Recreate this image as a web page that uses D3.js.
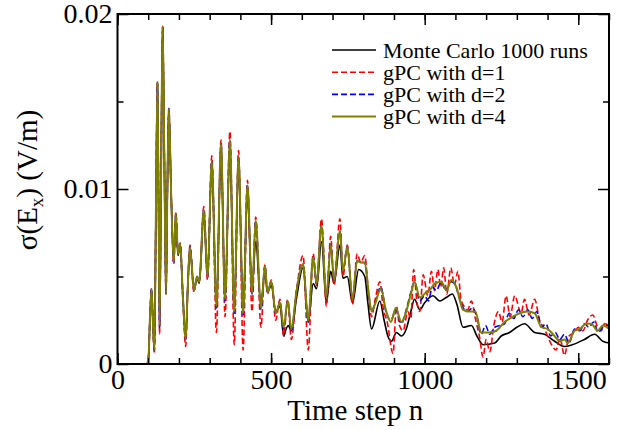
<!DOCTYPE html>
<html>
<head>
<meta charset="utf-8">
<script src="https://cdn.jsdelivr.net/npm/d3@7"></script>
<style>
  body { margin: 0; background: #fff; }
  svg text { font-family: "Liberation Serif", "Times New Roman", serif; fill: #000; }
</style>
</head>
<body>
<svg id="chart"></svg>
<script>
// legend labels and line styles, same order as the series below
const seriesNames = ['Monte Carlo 1000 runs', 'gPC with d=1', 'gPC with d=2', 'gPC with d=4'];
const xTickValues = [0, 500, 1000, 1500];
const yTickValues = [0, 0.01, 0.02];

// [time step, sigma(Ex)]
const mcRuns = [[0,0],[96,0],[101,0.0004],[106,0.0028],[111,0.0043],[115,0.0025],[120,0.0008],[125,0.0085],[130,0.0160],[134,0.0085],[137,0.0022],[142,0.011],[147,0.0192],[152,0.0125],[158,0.0040],[162,0.0095],[167,0.0145],[175,0.0095],[183,0.0060],[190,0.0084],[197,0.0062],[204,0.0068],[213,0.0038],[222,0.0015],[229,0.0045],[236,0.0066],[249,0.0043],[259,0.0049],[266,0.0046],[281,0.0085],[293,0.0050],[307,0.0114],[322,0.0035],[337,0.0122],[350,0.0038],[366,0.0122],[380,0.0033],[394,0.0112],[409,0.0032],[423,0.0097],[438,0.0043],[450,0.0070],[467,0.0034],[480,0.0053],[488,0.0041],[501,0.0045],[515,0.0030],[529,0.0033],[541,0.0016],[549,0.0020],[556,0.0022],[566,0.0019],[583,0.0038],[604,0.0055],[621,0.0024],[637,0.0046],[648,0.0043],[664,0.0070],[680,0.0035],[694,0.0053],[705,0.0046],[724,0.0068],[734,0.0049],[748,0.0050],[765,0.0035],[785,0.0054],[805,0.0050],[815,0.0035],[827,0.0020],[854,0.0036],[868,0.0025],[880,0.0016],[892,0.0013],[908,0.0018],[924,0.0016],[940,0.0020],[955,0.0030],[967,0.0037],[984,0.0031],[1000,0.0035],[1027,0.0039],[1049,0.0036],[1070,0.0038],[1090,0.0040],[1105,0.0034],[1125,0.0021],[1152,0.0022],[1170,0.0016],[1190,0.0011],[1228,0.0012],[1249,0.0016],[1276,0.0018],[1300,0.0021],[1325,0.0023],[1358,0.0018],[1390,0.0017],[1423,0.0013],[1455,0.0010],[1480,0.0011],[1520,0.0014],[1553,0.0017],[1580,0.0013],[1600,0.0012]];

const gpcD1 = [[0,0],[96,0],[101,0.0004],[106,0.0028],[111,0.0043],[115,0.0025],[120,0.0006],[125,0.0085],[130,0.0161],[134,0.0085],[137,0.0017],[142,0.011],[147,0.0193],[152,0.0125],[158,0.0040],[162,0.0095],[167,0.0146],[175,0.0095],[183,0.0057],[190,0.0087],[197,0.0063],[204,0.0069],[213,0.0036],[222,0.0010],[229,0.0045],[236,0.0068],[249,0.0041],[259,0.0050],[266,0.0047],[281,0.0090],[293,0.0048],[307,0.0119],[322,0.0018],[337,0.0128],[350,0.0027],[366,0.0133],[380,0.0011],[394,0.0122],[409,0.0008],[423,0.0105],[438,0.0030],[450,0.0084],[467,0.0021],[480,0.0057],[488,0.0040],[501,0.0048],[515,0.0025],[529,0.0037],[541,0.0016],[554,0.0037],[566,0.0014],[583,0.0042],[604,0.0062],[621,0.0008],[637,0.0063],[648,0.0045],[664,0.0083],[680,0.0033],[694,0.0073],[705,0.0045],[724,0.0083],[734,0.0050],[748,0.0068],[765,0.0034],[780,0.0063],[792,0.0058],[805,0.0062],[817,0.0040],[827,0.0027],[840,0.0038],[854,0.0047],[865,0.0032],[878,0.0024],[897,0.0006],[908,0.0033],[918,0.0022],[930,0.0019],[945,0.0030],[955,0.0026],[964,0.0054],[975,0.0035],[984,0.0030],[995,0.0051],[1010,0.0039],[1022,0.0053],[1032,0.0042],[1043,0.0054],[1052,0.0044],[1062,0.0055],[1072,0.0040],[1085,0.0055],[1097,0.0045],[1108,0.0053],[1118,0.0037],[1128,0.0033],[1140,0.0031],[1152,0.0036],[1165,0.0026],[1178,0.0016],[1190,0.0004],[1200,0.0014],[1212,0.0007],[1225,0.0022],[1240,0.0030],[1252,0.0024],[1265,0.0039],[1278,0.0027],[1293,0.0039],[1314,0.0029],[1325,0.0037],[1340,0.0028],[1358,0.0037],[1374,0.0025],[1390,0.0020],[1400,0.0016],[1413,0.0011],[1428,0.0008],[1440,0.0015],[1455,0.0005],[1470,0.0016],[1488,0.0018],[1500,0.0021],[1515,0.0019],[1530,0.0025],[1547,0.0028],[1563,0.0021],[1575,0.0019],[1585,0.0023],[1600,0.0022]];

const gpcD2 = [[0,0],[96,0],[101,0.0004],[106,0.0028],[111,0.0043],[115,0.0025],[120,0.0008],[125,0.0085],[130,0.0161],[134,0.0085],[137,0.0021],[142,0.011],[147,0.0193],[152,0.0125],[158,0.0040],[162,0.0095],[167,0.0146],[175,0.0095],[183,0.0058],[190,0.0086],[197,0.0063],[204,0.0069],[213,0.0038],[222,0.0014],[229,0.0045],[236,0.0067],[249,0.0042],[259,0.0050],[266,0.0047],[281,0.0088],[293,0.0050],[307,0.0116],[322,0.0032],[337,0.0126],[350,0.0036],[366,0.0128],[380,0.0029],[394,0.0118],[409,0.0028],[423,0.0102],[438,0.0040],[450,0.0082],[467,0.0031],[480,0.0056],[488,0.0041],[501,0.0047],[515,0.0029],[529,0.0035],[541,0.0020],[554,0.0036],[566,0.0019],[583,0.0042],[604,0.0057],[621,0.0024],[637,0.0061],[648,0.0046],[664,0.0079],[680,0.0038],[694,0.0068],[705,0.0048],[724,0.0076],[734,0.0053],[748,0.0067],[765,0.0037],[780,0.0059],[792,0.0058],[805,0.0058],[817,0.0041],[827,0.0030],[840,0.0036],[857,0.0044],[875,0.0029],[890,0.0025],[906,0.0031],[924,0.0023],[940,0.0031],[955,0.0041],[967,0.0047],[984,0.0036],[1000,0.0039],[1012,0.0036],[1025,0.0044],[1038,0.0042],[1054,0.0047],[1068,0.0042],[1087,0.0047],[1100,0.0045],[1112,0.0038],[1125,0.0032],[1140,0.0030],[1155,0.0032],[1170,0.0027],[1184,0.0017],[1198,0.0022],[1212,0.0017],[1228,0.0021],[1245,0.0022],[1260,0.0023],[1275,0.0029],[1290,0.0026],[1305,0.0031],[1320,0.0027],[1336,0.0031],[1350,0.0026],[1365,0.0030],[1380,0.0021],[1395,0.0023],[1410,0.0016],[1425,0.0018],[1440,0.0014],[1455,0.0017],[1470,0.0012],[1488,0.0020],[1505,0.0019],[1520,0.0023],[1535,0.0021],[1550,0.0024],[1565,0.0018],[1580,0.0021],[1600,0.0022]];

const gpcD4 = [[0,0],[96,0],[101,0.0004],[106,0.0028],[111,0.0043],[115,0.0025],[120,0.0008],[125,0.0085],[130,0.0161],[134,0.0085],[137,0.0022],[142,0.011],[147,0.0193],[152,0.0125],[158,0.0040],[162,0.0095],[167,0.0146],[175,0.0095],[183,0.0058],[190,0.0086],[197,0.0063],[204,0.0069],[213,0.0038],[222,0.0014],[229,0.0045],[236,0.0067],[249,0.0042],[259,0.0050],[266,0.0047],[281,0.0088],[293,0.0050],[307,0.0116],[322,0.0033],[337,0.0126],[350,0.0037],[366,0.0128],[380,0.0030],[394,0.0118],[409,0.0029],[423,0.0102],[438,0.0041],[450,0.0082],[467,0.0032],[480,0.0056],[488,0.0041],[501,0.0047],[515,0.0029],[529,0.0035],[541,0.0021],[554,0.0036],[566,0.0020],[583,0.0042],[604,0.0057],[621,0.0025],[637,0.0061],[648,0.0046],[664,0.0079],[680,0.0038],[694,0.0068],[705,0.0048],[724,0.0076],[734,0.0053],[748,0.0067],[765,0.0037],[780,0.0059],[792,0.0058],[805,0.0058],[817,0.0042],[827,0.0030],[840,0.0035],[857,0.0043],[875,0.0030],[890,0.0024],[906,0.0032],[924,0.0024],[940,0.0030],[955,0.0040],[967,0.0047],[984,0.0038],[1005,0.0041],[1020,0.0043],[1033,0.0046],[1054,0.0047],[1071,0.0042],[1087,0.0048],[1103,0.0044],[1125,0.0031],[1147,0.0030],[1165,0.0030],[1184,0.0018],[1210,0.0018],[1233,0.0019],[1260,0.0024],[1287,0.0027],[1309,0.0029],[1336,0.0030],[1358,0.0029],[1380,0.0021],[1400,0.0020],[1418,0.0017],[1440,0.0013],[1455,0.0014],[1466,0.0012],[1488,0.0019],[1505,0.0020],[1526,0.0023],[1542,0.0023],[1563,0.0019],[1580,0.0022],[1600,0.0020]];

class lineChart {

    constructor(config, data) {
        this.config = {
            parent: config.parent,
            width: config.width || 626,
            height: config.height || 430,
            margin: config.margin || { top: 14, right: 17, bottom: 66, left: 117.5 }
        };
        this.data = data;
        this.init();
    }

    init() {
        let self = this;
        let m = self.config.margin;

        self.innerWidth = self.config.width - m.left - m.right;
        self.innerHeight = self.config.height - m.top - m.bottom;

        self.svg = d3.select(self.config.parent)
            .attr('width', self.config.width)
            .attr('height', self.config.height);
        self.chart = self.svg.append('g')
            .attr('transform', `translate(${m.left}, ${m.top})`);

        self.xScale = d3.scaleLinear().domain([0, 1600]).range([0, self.innerWidth]);
        self.yScale = d3.scaleLinear().domain([0, 0.02]).range([self.innerHeight, 0]);

        self.line = d3.line()
            .x(d => self.xScale(d[0]))
            .y(d => self.yScale(d[1]))
            .curve(d3.curveMonotoneX);
    }

    render() {
        let self = this;
        let w = self.innerWidth, h = self.innerHeight;

        self.svg.append('defs').append('clipPath').attr('id', 'plot-clip')
            .append('rect').attr('width', w).attr('height', h);

        // series: black, dashed ones, olive on top
        let order = [0, 1, 2, 3];
        let lines = self.chart.append('g').attr('clip-path', 'url(#plot-clip)');
        order.forEach(i => {
            let s = self.data[i];
            lines.append('path')
                .datum(s.values)
                .attr('fill', 'none')
                .attr('stroke', s.color)
                .attr('stroke-width', s.width)
                .attr('stroke-dasharray', s.dash)
                .attr('stroke-linejoin', 'round')
                .attr('d', self.line);
        });

        // inward ticks on all four sides
        let fmtY = d => d === 0 ? '0' : d3.format('.2f')(d);
        let fmtX = d3.format('d');
        let minorX = d3.range(0, 1601, 100);
        let minorY = [0.005, 0.015];

        let addAxis = (axis, tx, ty) => {
            let g = self.chart.append('g')
                .attr('transform', `translate(${tx}, ${ty})`)
                .call(axis)
                .attr('font-family', '"Liberation Serif", serif')
                .attr('font-size', 28);
            g.select('.domain').remove();
            g.selectAll('line').attr('stroke', '#000').attr('stroke-width', 1.5);
            g.selectAll('text')
                .attr('fill', '#000')
                .style('font-family', '"Liberation Serif", serif')
                .style('font-size', '28px');
            return g;
        };

        addAxis(d3.axisBottom(self.xScale).tickValues(xTickValues).tickSize(-11).tickPadding(5).tickFormat(fmtX), 0, h);
        addAxis(d3.axisBottom(self.xScale).tickValues(minorX).tickSize(-6).tickFormat(''), 0, h);
        addAxis(d3.axisTop(self.xScale).tickValues(xTickValues).tickSize(-11).tickFormat(''), 0, 0);
        addAxis(d3.axisTop(self.xScale).tickValues(minorX).tickSize(-6).tickFormat(''), 0, 0);
        addAxis(d3.axisLeft(self.yScale).tickValues(yTickValues).tickSize(-11).tickPadding(5).tickFormat(fmtY), 0, 0);
        addAxis(d3.axisLeft(self.yScale).tickValues(minorY).tickSize(-6).tickFormat(''), 0, 0);
        addAxis(d3.axisRight(self.yScale).tickValues(yTickValues).tickSize(-11).tickFormat(''), w, 0);
        addAxis(d3.axisRight(self.yScale).tickValues(minorY).tickSize(-6).tickFormat(''), w, 0);

        self.chart.append('rect')
            .attr('width', w)
            .attr('height', h)
            .attr('fill', 'none')
            .attr('stroke', '#000')
            .attr('stroke-width', 2);

        // axis titles
        self.chart.append('text')
            .attr('x', w / 2 - 8)
            .attr('y', h + 56)
            .attr('text-anchor', 'middle')
            .style('font-size', '29px')
            .text('Time step n');

        let yt = self.svg.append('text')
            .attr('transform', `translate(37, 180) rotate(-90)`)
            .attr('text-anchor', 'middle')
            .style('font-size', '29px');
        yt.append('tspan').text('σ(E');
        yt.append('tspan').attr('dy', 6).style('font-size', '19px').text('x');
        yt.append('tspan').attr('dy', -6).text(') (V/m)');

        // legend
        let legend = self.svg.selectAll('.legend')
            .data(self.data)
            .enter()
            .append('g')
            .attr('class', 'legend')
            .attr('transform', (d, i) => `translate(332, ${50 + i * 22.2})`);

        legend.append('line')
            .attr('x1', 0)
            .attr('x2', 44)
            .attr('stroke', d => d.color)
            .attr('stroke-width', d => d.width)
            .attr('stroke-dasharray', d => d.dash);

        legend.append('text')
            .attr('x', 51)
            .attr('y', 7.5)
            .style('font-size', '22px')
            .text(d => d.name);
    }
}

let chartData = [
    { name: seriesNames[0], values: mcRuns, color: '#000000', width: 1.6, dash: null },
    { name: seriesNames[1], values: gpcD1, color: '#ff0000', width: 1.6, dash: '6,3' },
    { name: seriesNames[2], values: gpcD2, color: '#0000ff', width: 1.6, dash: '6,3' },
    { name: seriesNames[3], values: gpcD4, color: '#808000', width: 2, dash: null }
];

let chart = new lineChart({ parent: '#chart' }, chartData);
chart.render();
</script>
</body>
</html>
